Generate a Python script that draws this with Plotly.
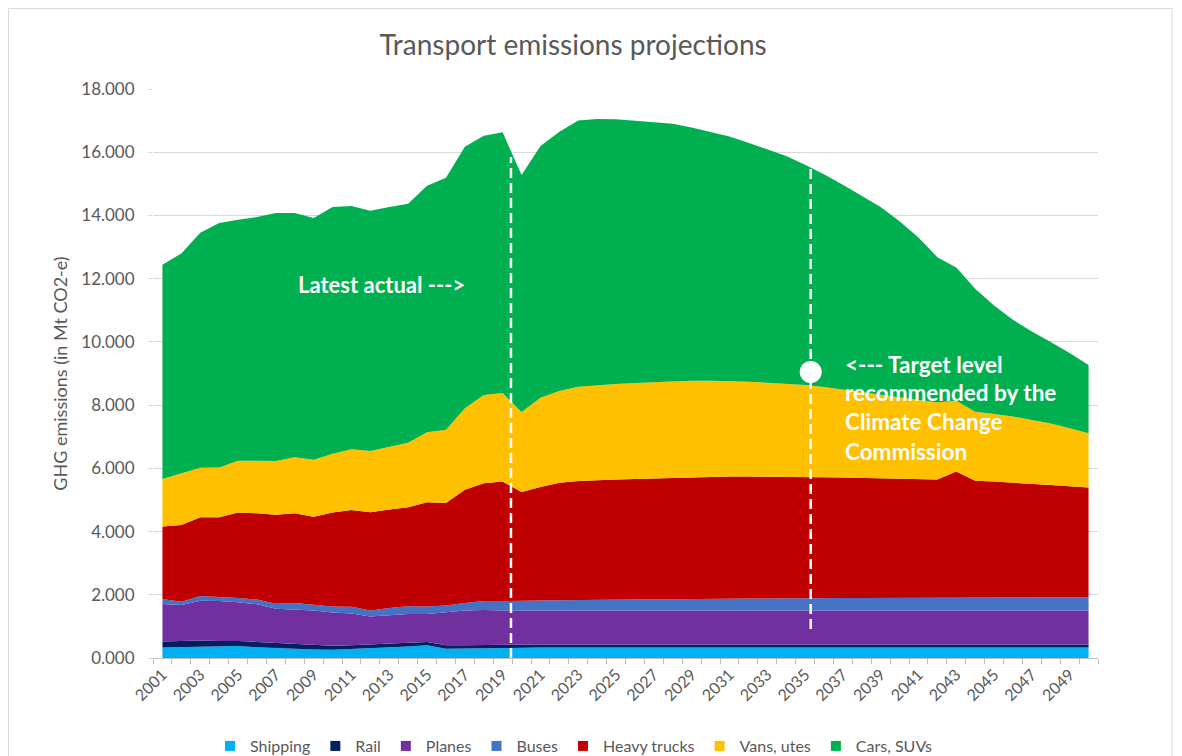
import plotly.graph_objects as go

years = list(range(2001, 2051))
tick_years = list(range(2001, 2051, 2))
tick_labels = [str(y) for y in tick_years]

shipping = [0.33, 0.34, 0.34, 0.35, 0.38, 0.34, 0.31, 0.30, 0.27, 0.26,
            0.28, 0.30, 0.33, 0.36, 0.40, 0.29, 0.30, 0.31, 0.33,
            0.33, 0.33, 0.33, 0.33, 0.33, 0.33, 0.33, 0.33, 0.33, 0.33,
            0.33, 0.33, 0.33, 0.33, 0.33, 0.33, 0.33, 0.33, 0.33, 0.33,
            0.33, 0.33, 0.33, 0.33, 0.33, 0.33, 0.33, 0.33, 0.33, 0.33, 0.33]
rail = [0.19, 0.20, 0.21, 0.19, 0.16, 0.17, 0.17, 0.15, 0.14, 0.13,
        0.12, 0.12, 0.13, 0.12, 0.11, 0.11, 0.10, 0.10, 0.10,
        0.10, 0.10, 0.10, 0.10, 0.10, 0.10, 0.10, 0.10, 0.10, 0.10,
        0.10, 0.10, 0.10, 0.10, 0.10, 0.10, 0.10, 0.10, 0.10, 0.10,
        0.10, 0.10, 0.10, 0.10, 0.10, 0.10, 0.10, 0.10, 0.10, 0.10, 0.10]
planes = [1.19, 1.14, 1.26, 1.26, 1.22, 1.19, 1.08, 1.09, 1.09, 1.05,
          1.01, 0.89, 0.89, 0.91, 0.88, 1.05, 1.10, 1.11, 1.07,
          1.07, 1.07, 1.07, 1.07, 1.07, 1.07, 1.07, 1.07, 1.07, 1.07,
          1.07, 1.07, 1.07, 1.07, 1.07, 1.07, 1.07, 1.07, 1.07, 1.07,
          1.07, 1.07, 1.07, 1.07, 1.07, 1.07, 1.07, 1.07, 1.07, 1.07, 1.07]
buses = [0.16, 0.10, 0.15, 0.14, 0.14, 0.15, 0.16, 0.20, 0.18, 0.19,
         0.21, 0.19, 0.23, 0.25, 0.24, 0.21, 0.24, 0.28, 0.30,
         0.30, 0.32, 0.33, 0.34, 0.34, 0.35, 0.35, 0.36, 0.36, 0.37,
         0.37, 0.38, 0.38, 0.38, 0.39, 0.39, 0.39, 0.40, 0.40, 0.40,
         0.41, 0.41, 0.41, 0.41, 0.42, 0.42, 0.42, 0.42, 0.42, 0.42, 0.42]
heavy_trucks = [2.29, 2.43, 2.49, 2.51, 2.70, 2.73, 2.81, 2.84, 2.79, 2.97,
                3.06, 3.11, 3.12, 3.13, 3.30, 3.24, 3.58, 3.73, 3.78,
                3.45, 3.59, 3.71, 3.76, 3.79, 3.80, 3.81, 3.82, 3.84, 3.85,
                3.86, 3.86, 3.86, 3.86, 3.85, 3.84, 3.83, 3.81, 3.80, 3.78,
                3.76, 3.75, 3.74, 3.99, 3.69, 3.66, 3.63, 3.59, 3.55, 3.51, 3.47]
vans_utes = [1.50, 1.63, 1.57, 1.58, 1.64, 1.66, 1.70, 1.77, 1.80, 1.86,
             1.92, 1.94, 1.99, 2.04, 2.21, 2.32, 2.58, 2.79, 2.80,
             2.53, 2.82, 2.91, 2.98, 3.00, 3.02, 3.04, 3.05, 3.05, 3.05,
             3.04, 3.02, 3.00, 2.97, 2.94, 2.91, 2.85, 2.78, 2.71, 2.65,
             2.57, 2.50, 2.43, 2.24, 2.18, 2.14, 2.09, 2.02, 1.95, 1.84, 1.72]
cars_suvs = [6.78, 6.96, 7.43, 7.73, 7.62, 7.71, 7.85, 7.73, 7.65, 7.81,
             7.70, 7.60, 7.58, 7.56, 7.80, 7.97, 8.27, 8.20, 8.25,
             7.50, 7.97, 8.20, 8.42, 8.42, 8.37, 8.30, 8.23, 8.15, 8.01,
             7.88, 7.74, 7.56, 7.39, 7.20, 6.96, 6.73, 6.48, 6.22, 5.94,
             5.58, 5.14, 4.60, 4.21, 3.89, 3.43, 3.06, 2.80, 2.58, 2.38, 2.16]

series_names = ["Shipping", "Rail", "Planes", "Buses", "Heavy trucks", "Vans, utes", "Cars, SUVs"]
series_values = [shipping, rail, planes, buses, heavy_trucks, vans_utes, cars_suvs]
series_colors = ["#00B0F0", "#002060", "#7030A0", "#4472C4", "#C00000", "#FFC000", "#00B050"]

latest_actual_x = [2019.44]
target_year = [2035.3]
target_level = [9.05]

FONT = "Lato"
GREY = "#595959"

fig = go.Figure()
for name, vals, col in zip(series_names, series_values, series_colors):
    fig.add_trace(go.Scatter(
        x=years, y=vals, name=name, mode="lines", stackgroup="one",
        line=dict(width=0, color=col), fillcolor=col, showlegend=False,
        hoverinfo="x+y+name"))
for name, col in zip(series_names, series_colors):
    fig.add_trace(go.Scatter(
        x=[None], y=[None], name=name, mode="markers",
        marker=dict(symbol="square", size=10, color=col)))

# dashed reference lines
fig.add_shape(type="line", xref="x", yref="y", x0=latest_actual_x[0], x1=latest_actual_x[0],
              y0=0, y1=15.85, line=dict(color="white", width=2.5, dash="10px,5px"))
fig.add_shape(type="line", xref="x", yref="y", x0=target_year[0], x1=target_year[0],
              y0=0.92, y1=15.5, line=dict(color="white", width=2.5, dash="10px,5px"))
fig.add_trace(go.Scatter(x=target_year, y=target_level, mode="markers", showlegend=False,
                         marker=dict(size=22, color="white"), hoverinfo="skip"))

fig.add_annotation(x=2008.07, y=11.8, xref="x", yref="y", text="<b>Latest actual ---></b>",
                   showarrow=False, xanchor="left", yanchor="middle",
                   font=dict(family=FONT, size=22, color="white"))
target_lines = ["<--- Target level", "recommended by the", "Climate Change", "Commission"]
target_line_y = [9.30, 8.39, 7.47, 6.52]
for txt, yy in zip(target_lines, target_line_y):
    fig.add_annotation(x=2037.0, y=yy, xref="x", yref="y", text="<b>" + txt.replace("<", "&lt;") + "</b>",
                       showarrow=False, xanchor="left", yanchor="middle",
                       font=dict(family=FONT, size=22.5, color="white"))

# chart border
fig.add_shape(type="rect", xref="paper", yref="paper", x0=-0.1529, x1=1.0783, y0=-0.2, y1=1.1415,
              line=dict(color="#d9d9d9", width=1), fillcolor="rgba(0,0,0,0)", layer="below")

fig.update_layout(
    width=1166, height=748,
    margin=dict(l=145, r=76, t=81, b=98, autoexpand=False),
    paper_bgcolor="white", plot_bgcolor="white",
    title=dict(text="Transport emissions projections", x=0.4846, xanchor="center",
               y=1 - 37 / 748, yanchor="middle", font=dict(family=FONT, size=28, color=GREY)),
    font=dict(family=FONT, color=GREY),
    showlegend=True,
    legend=dict(orientation="h", x=0.4455, xanchor="center", y=-0.1547, yanchor="middle",
                font=dict(family=FONT, size=16, color=GREY), itemwidth=30, traceorder="normal"),
    xaxis=dict(range=[2000.5, 2050.5], tickmode="array", tickvals=tick_years, ticktext=tick_labels,
               tickangle=-45, ticks="", showgrid=False, zeroline=False, automargin=False,
               showline=True, linecolor="#bfbfbf", linewidth=1,
               tickfont=dict(family=FONT, size=16, color=GREY),
               minor=dict(tick0=2000.5, dtick=1, ticks="outside", ticklen=5, tickcolor="#bfbfbf",
                          showgrid=False)),
    yaxis=dict(range=[0, 18], tickmode="linear", tick0=0, dtick=2, tickformat=".3f",
               showgrid=True, gridcolor="#d9d9d9", gridwidth=1, zeroline=False, automargin=False,
               showline=False, ticks="outside", ticklen=4, tickcolor="#d9d9d9",
               ticklabelstandoff=10,
               tickfont=dict(family=FONT, size=17, color=GREY),
               title=dict(text="GHG emissions (in Mt CO2-e)", standoff=8,
                          font=dict(family=FONT, size=18, color=GREY))),
)

fig.write_html("out.html")
